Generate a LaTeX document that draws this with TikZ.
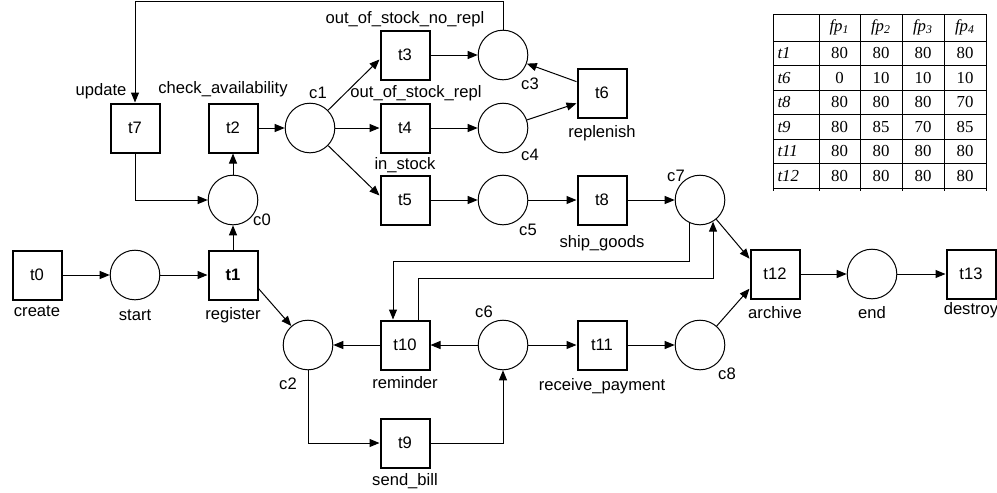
\documentclass[tikz,border=0pt]{standalone}
\usepackage{fontspec}
\setmainfont{Liberation Sans}
\newfontfamily\tabfont{Liberation Serif}
\usetikzlibrary{arrows.meta,positioning,calc}

\begin{document}
\begin{tikzpicture}[x=0.5pt, y=-0.5pt, on grid, line width=0.5pt,
  >={Triangle[length=5pt,width=4pt]},
  font=\fontsize{8.3}{10}\selectfont,
  transition/.style={draw, line width=1pt, minimum size=24.5pt, inner sep=0pt},
  place/.style={draw, circle, line width=0.5pt, minimum size=24.8pt, inner sep=0pt},
  lbl/.style={inner sep=0pt},
  tabtxt/.style={font=\tabfont\fontsize{8.4}{10}\selectfont, inner sep=0pt}]
\useasboundingbox (0,0) rectangle (997,493);

% net
\node[transition] (t0) at (37,275) {t0};
\node[place, right=49pt of t0] (pstart) {};
\node[transition, right=49pt of pstart] (t1) {\textbf{t1}};
\node[place, above=37.5pt of t1] (c0) {};
\node[transition, above=36pt of c0] (t2) {t2};
\node[transition, left=49pt of t2] (t7) {t7};
\node[place, right=38.5pt of t2] (c1) {};
\node[transition, right=47.5pt of c1] (t4) {t4};
\node[transition, above=36.5pt of t4] (t3) {t3};
\node[transition, below=36pt of t4] (t5) {t5};
\node[place, right=49pt of t3] (c3) {};
\node[place, right=49pt of t4] (c4) {};
\node[place, right=49pt of t5] (c5) {};
\node[transition, above right=17.5pt and 49.5pt of c4] (t6) {t6};
\node[transition, right=49.5pt of c5] (t8) {t8};
\node[place, right=49pt of t8] (c7) {};
\node[transition, below right=37pt and 37.5pt of c7] (t12) {t12};
\node[place, right=48.5pt of t12] (pend) {};
\node[transition, right=49.5pt of pend] (t13) {t13};
\node[place, below right=35pt and 37.5pt of t1] (c2) {};
\node[transition, right=48.5pt of c2] (t10) {t10};
\node[place, right=49pt of t10] (c6) {};
\node[transition, right=49.5pt of c6] (t11) {t11};
\node[place, right=49pt of t11] (c8) {};
\node[transition, below=49pt of t10] (t9) {t9};

% labels
\node[lbl, below=18pt of t0] (lt0) {create};
\node[lbl, below=20pt of pstart] (lstart) {start};
\node[lbl, below=20pt of t1] (lt1) {register};
\node[lbl, below right=10pt and 14.5pt of c0] (lc0) {c0};
\node[lbl, above left=19.5pt and 5pt of t2] (lt2) {check\_availability};
\node[lbl, above left=18.5pt and 17pt of t7] (lt7) {update};
\node[lbl, above right=17.5pt and 4pt of c1] (lc1) {c1};
\node[lbl, above=18pt of t3] (lt3) {out\_of\_stock\_no\_repl};
\node[lbl, above right=17.5pt and 5.5pt of t4] (lt4) {out\_of\_stock\_repl};
\node[lbl, above=17.5pt of t5] (lt5) {in\_stock};
\node[lbl, below right=14.5pt and 13.5pt of c3] (lc3) {c3};
\node[lbl, below right=13.5pt and 13.5pt of c4] (lc4) {c4};
\node[lbl, below right=15pt and 12.5pt of c5] (lc5) {c5};
\node[lbl, below=20pt of t6] (lt6) {replenish};
\node[lbl, below=21.5pt of t8] (lt8) {ship\_goods};
\node[lbl, above left=12pt and 12pt of c7] (lc7) {c7};
\node[lbl, below right=14.5pt and 13.5pt of c8] (lc8) {c8};
\node[lbl, below=19.5pt of t12] (lt12) {archive};
\node[lbl, below=19.5pt of pend] (lend) {end};
\node[lbl, below=18pt of t13] (lt13) {destroy};
\node[lbl, above left=16.5pt and 9.5pt of c6] (lc6) {c6};
\node[lbl, below=19pt of t10] (lt10) {reminder};
\node[lbl, below=20.5pt of t11] (lt11) {receive\_payment};
\node[lbl, below left=19.5pt and 10pt of c2] (lc2) {c2};
\node[lbl, below=19pt of t9] (lt9) {send\_bill};

% arcs
\draw[->] (t0) -- (pstart);
\draw[->] (pstart) -- (t1);
\draw[->] (t1) -- (c0);
\draw[->] (c0) -- (t2);
\draw[->] (t1.-28) -- (c2);
\draw[->] (t2) -- (c1);
\draw[->] (c1) -- (t3.190);
\draw[->] (c1) -- (t4);
\draw[->] (c1) -- (t5.170);
\draw[->] (t3) -- (c3);
\draw[->] (t4) -- (c4);
\draw[->] (t5) -- (c5);
\draw[->] (c4) -- (t6.202);
\draw[->] (t6.156) -- (c3);
\draw[->] (c3.north) -- ++(0,-28) -| (t7.north);
\draw[->] (t7.south) |- (c0.west);
\draw[->] (c5) -- (t8);
\draw[->] (t8) -- (c7);
\draw[->] (c7) -- (t12.149);
\draw[->] (c8) -- (t12.210);
\draw[->] (t12) -- (pend);
\draw[->] (pend) -- (t13);
\draw[->] (c2.south) |- (t9.west);
\draw[->] (t9.east) -| (c6.south);
\draw[->] (c6) -- (t10);
\draw[->] (t10) -- (c2);
\draw[->] (c6) -- (t11);
\draw[->] (t11) -- (c8);
\draw[->] (c7.-114) -- ++(0,38) -| ($(t10.north)+(-12,0)$);
\draw[->] ($(t10.north)+(13,0)$) -- ++(0,-41) -| (c7.-59);

% table
\foreach \y in {14,41,65.5,90,114.5,139,163.5,188}
  \draw (773,\y) -- (986,\y);
\foreach \x in {773,819,860,902,944,986}
  \draw (\x,14) -- (\x,191);
\foreach \x/\k in {839.5/1,881/2,923/3,965/4}
  \node[tabtxt] (fp\k) at (\x,27.5) {\itshape fp\textsubscript{\k}};
\foreach \r/\a/\b/\c/\d [count=\i] in {t1/80/80/80/80, t6/0/10/10/10, t8/80/80/80/70,
    t9/80/85/70/85, t11/80/80/80/80, t12/80/80/80/80} {
  \pgfmathsetmacro\yy{41+24.5*(\i-0.5)}
  \node[tabtxt, anchor=west] (row\i) at (777,\yy) {\itshape\r};
  \node[tabtxt] (a\i) at (839.5,\yy) {\a};
  \node[tabtxt] (b\i) at (881,\yy) {\b};
  \node[tabtxt] (c\i) at (923,\yy) {\c};
  \node[tabtxt] (d\i) at (965,\yy) {\d};
}
\end{tikzpicture}
\end{document}
